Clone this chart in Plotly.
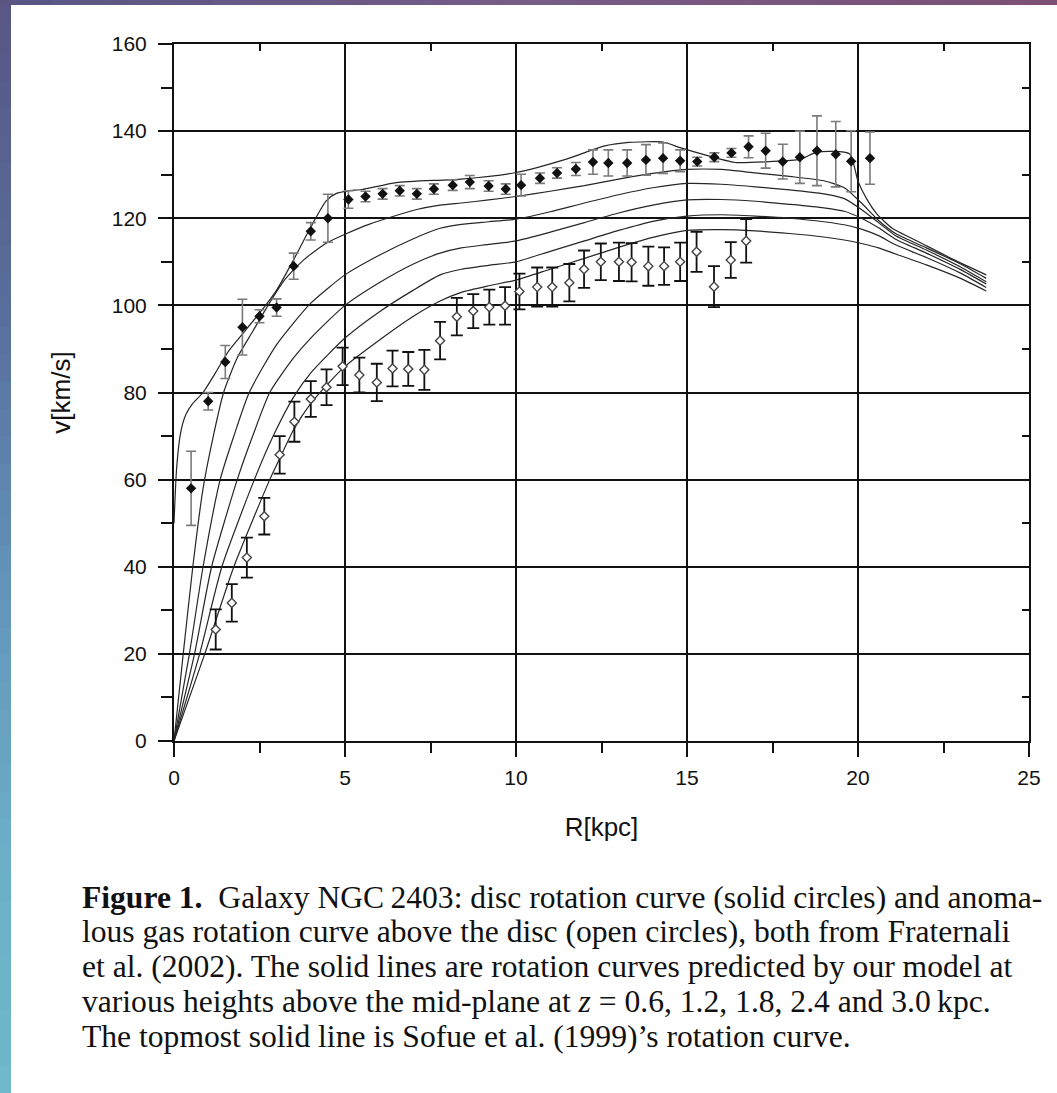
import plotly.graph_objects as go

# ---------------- data ----------------
# Disc rotation curve (solid symbols), Fraternali et al. (2002)
disc_R = [0.5, 1.0, 1.5, 2.0, 2.5, 3.0, 3.5, 4.0, 4.5, 5.1, 5.6, 6.1, 6.6, 7.1, 7.6,
          8.15, 8.65, 9.2, 9.7, 10.15, 10.7, 11.2, 11.75, 12.25, 12.7, 13.25, 13.8,
          14.3, 14.8, 15.3, 15.8, 16.3, 16.8, 17.3, 17.8, 18.3, 18.8, 19.35, 19.8, 20.35]
disc_v = [58, 78, 87, 95, 97.5, 99.5, 109, 117, 120, 124.3, 125, 125.6, 126.3, 125.6, 126.7,
          127.6, 128.3, 127.4, 126.7, 127.6, 129.2, 130.4, 131.3, 132.9, 132.7, 132.7, 133.4,
          133.8, 133.2, 133.0, 134.0, 135.0, 136.4, 135.5, 133.0, 134.0, 135.5, 134.7, 133.1, 133.8]
disc_err = [8.5, 2, 3.8, 6.4, 1.5, 2, 3, 2, 5.5, 2, 1.2, 1.2, 1.2, 1.2, 1.2,
            1.2, 1.5, 1.2, 1.2, 2.5, 1.2, 1.2, 1.5, 2.8, 3, 3, 3.5,
            3.5, 2.5, 1, 1, 1, 2.5, 4, 4, 6, 8, 7.5, 7, 6]

# Anomalous gas above the disc (open symbols)
gas_R = [1.22, 1.69, 2.13, 2.64, 3.09, 3.52, 4.0, 4.46, 4.93, 5.42, 5.93, 6.39, 6.85, 7.32,
         7.78, 8.27, 8.75, 9.22, 9.68, 10.1, 10.62, 11.06, 11.56, 11.99, 12.48, 13.01,
         13.38, 13.87, 14.33, 14.8, 15.28, 15.79, 16.28, 16.73]
gas_v = [25.6, 31.7, 42.1, 51.6, 65.7, 73.3, 78.5, 81.2, 86.0, 84.0, 82.3, 85.5, 85.4, 85.2,
         91.9, 97.4, 98.7, 99.6, 99.9, 103.2, 104.2, 104.2, 105.2, 108.3, 110.0, 110.0,
         109.9, 109.0, 109.0, 110.0, 112.3, 104.3, 110.4, 114.8]
gas_err = [4.6, 4.3, 4.6, 4.2, 4.3, 4.6, 4.1, 4.1, 4.3, 4.0, 4.3, 4.1, 3.9, 4.6,
           4.3, 4.3, 3.9, 4.0, 4.3, 4.1, 4.5, 4.5, 4.3, 4.3, 4.2, 4.4,
           4.4, 4.5, 4.3, 4.4, 4.6, 4.7, 4.1, 5.0]

# Sofue et al. (1999) rotation curve (topmost line)
sofue_R = [0, 0.08, 0.2, 0.35, 0.55, 0.85, 1.25, 1.55, 1.85, 2.5, 3.0, 3.5, 4.0, 4.45, 4.75,
           5.1, 5.5, 6.5, 8.4, 10.0, 11.4, 12.6, 13.3, 14.3, 14.8, 15.5, 16.4, 17.4, 18.3,
           18.8, 19.75, 20.0, 20.25, 20.55, 21.0, 21.8, 22.8, 23.75]
sofue_v = [50, 63, 71, 75, 77.5, 80, 85, 89, 92, 98.2, 103.5, 110.5, 118, 124, 125.7,
           126.3, 126.6, 128.2, 129, 130.5, 133.4, 136.6, 137.4, 137.5, 136.2, 134.6, 132.8, 133, 133.5,
           135.2, 134.8, 128.5, 124.5, 121, 117.7, 114.5, 110.5, 107]

# Model rotation curves at z = 0.6, 1.2, 1.8, 2.4, 3.0 kpc
z06_R = [0, 0.27, 0.55, 0.85, 1.15, 1.45, 1.85, 2.3, 2.75, 3.25, 3.8, 4.46, 5.05, 5.7, 6.4,
         7.1, 7.78, 8.4, 9.2, 10, 11, 12, 13, 14, 15, 16, 17, 18, 19, 19.6, 20.1, 20.6, 21.1,
         22, 23, 23.75]
z06_v = [0, 20, 40, 58, 70, 80, 88, 94, 100, 106, 110.5, 114.3, 116.5, 118.6, 120.4,
         122, 123, 123.5, 124.2, 125, 126.2, 127.5, 129, 130.3, 131.2, 131.2, 130.4, 129.6, 128.6,
         127, 123.5, 119.5, 116.5, 113.2, 109.5, 106.2]

z12_R = [0, 0.45, 0.85, 1.35, 1.75, 2.2, 3.0, 4.0, 5.0, 6.0, 7.0, 7.78, 8.4, 9.2, 10, 11, 12,
         13, 14, 15, 16, 17, 18, 19, 19.6, 20.1, 20.6, 21.1, 22, 23, 23.75]
z12_v = [0, 20, 40, 60, 70, 80, 91, 100.5, 107, 111.5, 115.3, 117.7, 118.6, 119.2, 119.8,
         121.5, 123.5, 125.4, 127, 128, 127.8, 127.2, 126.5, 125.6, 124.5, 122, 119, 116,
         112.7, 108.8, 105.4]

z18_R = [0, 0.6, 1.1, 1.85, 2.3, 2.8, 3.5, 4.0, 5.0, 6.0, 7.0, 7.78, 8.4, 9.2, 10, 11, 12,
         13, 14, 15, 16, 17, 18, 19, 19.6, 20.1, 20.6, 21.1, 22, 23, 23.75]
z18_v = [0, 20, 40, 60, 70, 80, 88, 92.5, 100, 105.2, 109.5, 112, 113.2, 114, 114.8,
         116.8, 119, 121.2, 123, 124.2, 124.3, 123.9, 123.2, 122.4, 121.6, 120, 117.8, 115.2,
         112, 108.2, 104.9]

z24_R = [0, 0.75, 1.4, 2.35, 2.9, 3.5, 4.0, 5.0, 6.0, 7.0, 7.78, 8.4, 9.2, 10, 11, 12,
         13, 14, 15, 16, 17, 18, 19, 19.6, 20.1, 20.6, 21.1, 22, 23, 23.75]
z24_v = [0, 20, 40, 60, 70, 79, 84.5, 92.5, 98.5, 103.5, 107, 108.3, 109.2, 110,
         112.4, 114.8, 117.2, 119.3, 120.5, 120.8, 120.5, 120, 119.2, 118.5, 117.5, 116,
         113.9, 111, 107.4, 104.1]

z30_R = [0, 0.9, 1.75, 2.8, 3.1, 3.5, 4.0, 4.5, 5.0, 6.0, 7.0, 7.78, 8.4, 9.2, 10, 11, 12,
         13, 14, 15, 16, 17, 18, 19, 19.6, 20.1, 20.6, 21.1, 22, 23, 23.75]
z30_v = [0, 20, 40, 60, 65, 71.5, 77.5, 82, 86, 92, 97.5, 101, 103, 104.5, 105.8,
         108.3, 110.8, 113.3, 115.6, 117.2, 117.4, 117.1, 116.5, 115.7, 115, 114.2, 113.2,
         111.8, 109.3, 106.2, 103.3]

x_ticks = [0, 5, 10, 15, 20, 25]
y_ticks = [0, 20, 40, 60, 80, 100, 120, 140, 160]

caption_lines = [
    "<b>Figure 1.</b>  Galaxy NGC\u202f2403: disc rotation curve (solid circles) and anoma-",
    "lous gas rotation curve above the disc (open circles), both from Fraternali",
    "et al. (2002). The solid lines are rotation curves predicted by our model at",
    "various heights above the mid-plane at <i>z</i> = 0.6, 1.2, 1.8, 2.4 and 3.0\u202fkpc.",
    "The topmost solid line is Sofue et al. (1999)\u2019s rotation curve.",
]

# ---------------- geometry helpers (pixels -> paper coords) ----------------
W, H = 1057, 1093
ML, MR, MT, MB = 174, 28, 44, 352
PW, PH = W - ML - MR, H - MT - MB


def px(xp):
    return (xp - ML) / PW


def py(yp):
    return (H - MB - yp) / PH


def lerp(c1, c2, t):
    return tuple(int(round(a + (b - a) * t)) for a, b in zip(c1, c2))


def grad(stops, t):
    for i in range(len(stops) - 1):
        t0, c0 = stops[i]
        t1, c1 = stops[i + 1]
        if t0 <= t <= t1:
            return lerp(c0, c1, (t - t0) / (t1 - t0))
    return stops[-1][1]


shapes = []
# slide background bands (decorative)
left_stops = [(0, (88, 86, 132)), (0.3, (88, 112, 156)), (0.55, (100, 150, 186)),
              (0.8, (108, 176, 200)), (1, (112, 184, 202))]
N = 40
for i in range(N):
    y0, y1 = H * i / N - 1, H * (i + 1) / N + 1
    c = grad(left_stops, (i + 0.5) / N)
    shapes.append(dict(type="rect", xref="paper", yref="paper", x0=px(-2), x1=px(11),
                       y0=py(y1), y1=py(y0), fillcolor="rgb(%d,%d,%d)" % c,
                       line=dict(width=0), layer="below"))
top_stops = [(0, (88, 86, 132)), (0.5, (118, 92, 134)), (1, (124, 80, 116))]
for i in range(N):
    x0, x1 = W * i / N - 1, W * (i + 1) / N + 1
    c = grad(top_stops, (i + 0.5) / N)
    shapes.append(dict(type="rect", xref="paper", yref="paper", x0=px(max(x0, 11) if i else -2),
                       x1=px(x1), y0=py(5), y1=py(-2), fillcolor="rgb(%d,%d,%d)" % c,
                       line=dict(width=0), layer="below"))

fig = go.Figure()

line_style = dict(color="#262626", width=1.2, shape="spline", smoothing=0.6)
for R, v in [(sofue_R, sofue_v), (z06_R, z06_v), (z12_R, z12_v), (z18_R, z18_v),
             (z24_R, z24_v), (z30_R, z30_v)]:
    fig.add_trace(go.Scatter(x=R, y=v, mode="lines", line=line_style,
                             showlegend=False, hoverinfo="skip"))

fig.add_trace(go.Scatter(
    x=disc_R, y=disc_v, mode="markers",
    marker=dict(symbol="diamond", size=8, color="#111111"),
    error_y=dict(type="data", array=disc_err, color="#7a7a7a", thickness=1.6, width=5),
    showlegend=False))

fig.add_trace(go.Scatter(
    x=gas_R, y=gas_v, mode="markers",
    marker=dict(symbol="diamond", size=7, color="white", line=dict(color="#444444", width=1.4)),
    error_y=dict(type="data", array=gas_err, color="#111111", thickness=1.8, width=6),
    showlegend=False))

# dummy trace to materialise the mirrored (inside-tick) axes
fig.add_trace(go.Scatter(x=[None], y=[None], xaxis="x2", yaxis="y2",
                         showlegend=False, hoverinfo="skip"))

for k, txt in enumerate(caption_lines):
    fig.add_annotation(text=txt, xref="paper", yref="paper", x=px(80), y=py(897 + 34.8 * k),
                       xanchor="left", yanchor="middle", showarrow=False,
                       font=dict(family="Liberation Serif", size=31.6, color="#111111"))

axis_font = dict(family="Liberation Sans", size=21, color="#111111")
fig.update_layout(
    width=W, height=H,
    margin=dict(l=ML, r=MR, t=MT, b=MB),
    paper_bgcolor="white", plot_bgcolor="white",
    shapes=shapes,
    xaxis=dict(range=[0, 25], tickvals=x_ticks, ticks="outside", ticklen=14, tickwidth=1.8,
               tickcolor="#111", showgrid=True, gridcolor="#111", gridwidth=1.8,
               showline=True, linecolor="#111", linewidth=2, mirror=True, zeroline=False,
               minor=dict(dtick=2.5, ticks="outside", ticklen=10, tickwidth=1.5, tickcolor="#111", showgrid=False),
               tickfont=axis_font, ticklabelstandoff=3,
               title=dict(text="R[kpc]", font=dict(family="Liberation Sans", size=26, color="#111"), standoff=30)),
    yaxis=dict(range=[0, 160], tickvals=y_ticks, ticks="outside", ticklen=14, tickwidth=1.8,
               tickcolor="#111", showgrid=True, gridcolor="#111", gridwidth=1.8,
               showline=True, linecolor="#111", linewidth=2, mirror=True, zeroline=False,
               minor=dict(dtick=10, ticks="outside", ticklen=11, tickwidth=1.5, tickcolor="#111", showgrid=False),
               tickfont=axis_font, ticklabelstandoff=7,
               title=dict(text="v[km/s]", font=dict(family="Liberation Sans", size=26, color="#111"), standoff=34)),
    xaxis2=dict(overlaying="x", side="top", anchor="y", range=[0, 25], tickvals=x_ticks,
                ticks="inside", ticklen=10, tickwidth=1.8, tickcolor="#111",
                minor=dict(dtick=2.5, ticks="inside", ticklen=7, tickwidth=1.5, tickcolor="#111"),
                showticklabels=False, showgrid=False, zeroline=False, showline=False),
    yaxis2=dict(overlaying="y", side="right", anchor="x", range=[0, 160], tickvals=y_ticks,
                ticks="inside", ticklen=10, tickwidth=1.8, tickcolor="#111",
                minor=dict(dtick=10, ticks="inside", ticklen=7, tickwidth=1.5, tickcolor="#111"),
                showticklabels=False, showgrid=False, zeroline=False, showline=False),
)

fig.write_html("out.html")
